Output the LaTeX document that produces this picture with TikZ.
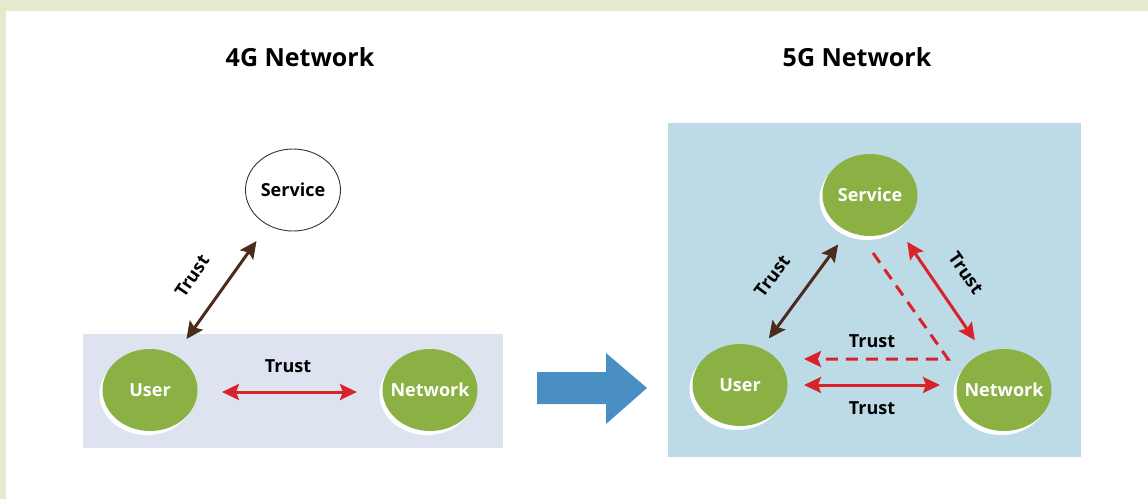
\documentclass[tikz,border=0pt]{standalone}
\usepackage{fontspec}
\setmainfont{Open Sans}
\usetikzlibrary{arrows.meta,shapes.geometric,calc}
\definecolor{bordergreen}{HTML}{E3EBCC}
\definecolor{boxfour}{HTML}{DDE4EF}
\definecolor{boxfive}{HTML}{BDDBE6}
\definecolor{leafgreen}{HTML}{8BB145}
\definecolor{trustred}{HTML}{D8232A}
\definecolor{trustbrown}{HTML}{4B2B1B}
\definecolor{bigblue}{HTML}{4A8FC3}
\newcommand{\ctrtext}[1]{\makebox[0pt][c]{#1}}
\begin{document}
\begin{tikzpicture}[x=1pt,y=-1pt,
  bubble/.style={ellipse, fill=leafgreen, minimum width=95pt, minimum height=82pt,
    inner sep=0pt, text=white, font=\fontsize{18}{20}\selectfont\bfseries,
    preaction={fill=white, transform canvas={xshift=-3pt,yshift=-4pt}}},
  plainbubble/.style={ellipse, fill=white, draw=black!80, line width=0.9pt,
    minimum width=95pt, minimum height=82pt, inner sep=0pt, text=black,
    font=\fontsize{18}{20}\selectfont\bfseries},
  lab/.style={font=\fontsize{18}{20}\selectfont\bfseries, text=black, inner sep=0pt},
  heading/.style={font=\fontsize{25}{28}\selectfont\bfseries, text=black, inner sep=0pt},
  redlink/.style={draw=trustred, line width=3pt, {Stealth[length=17pt,width=16pt,inset=3pt]}-{Stealth[length=17pt,width=16pt,inset=3pt]}},
  brownlink/.style={draw=trustbrown, line width=3pt, {Stealth[length=17pt,width=16pt,inset=3pt]}-{Stealth[length=17pt,width=16pt,inset=3pt]}},
  dashlink/.style={draw=trustred, line width=3pt, dash pattern=on 12pt off 8pt, -{Stealth[length=17pt,width=16pt,inset=3pt]}}
]
\useasboundingbox (0,0) rectangle (1148,499);
% background
\fill[bordergreen] (0,0) rectangle (1148,499);
\fill[white] (6,11) rectangle (1148,499);

% titles
\node[heading] (t4) at (300,57) {4G Network};
\node[heading] (t5) at (857,57) {5G Network};

% 4G panel
\fill[boxfour] (83,334) rectangle (503,448);
\node[plainbubble] (svc4) at (293,190) {\ctrtext{Service}};
\node[bubble] (usr4) at (150,390) {\ctrtext{User}};
\node[bubble] (net4) at (430,390) {\ctrtext{Network}};

\draw[brownlink] ($(usr4)!0.255!(svc4)$) -- ($(usr4)!0.745!(svc4)$);
\draw[redlink] ($(usr4)!0.257!(net4)+(0,2)$) -- ($(usr4)!0.739!(net4)+(0,2)$);
\node[lab, rotate=56] (l4a) at (192,276) {Trust};
\node[lab] (l4b) at (288,366) {Trust};

% big arrow
\fill[bigblue] (537,372) -- (606,372) -- (606,353) -- (647,388) -- (606,424)
  -- (606,404) -- (537,404) -- cycle;

% 5G panel
\fill[boxfive] (668,123) rectangle (1081,457);
\node[bubble] (svc5) at (870,195) {\ctrtext{Service}};
\node[bubble] (usr5) at (740,385) {\ctrtext{User}};
\node[bubble] (net5) at (1004,390) {\ctrtext{Network}};

\draw[brownlink] ($(usr5)!0.245!(svc5)+(-3,0)$) -- ($(usr5)!0.74!(svc5)+(2,0)$);
\draw[redlink] ($(svc5)!0.24!(net5)+(5,0)$) -- ($(svc5)!0.745!(net5)+(5,0)$);
\draw[dashlink] ($(svc5)+(3,58)$) -- ($(net5)+(-56,-31)$) -- ($(usr5)+(64,-26)$);
\draw[redlink] ($(usr5)+(64,0)$) -- ($(net5)+(-64,-5)$);

\node[lab, rotate=53] (l5a) at (772,276) {Trust};
\node[lab, rotate=-55] (l5b) at (966,273) {Trust};
\node[lab] (l5c) at (872,341) {Trust};
\node[lab] (l5d) at (872,408) {Trust};
\end{tikzpicture}
\end{document}
